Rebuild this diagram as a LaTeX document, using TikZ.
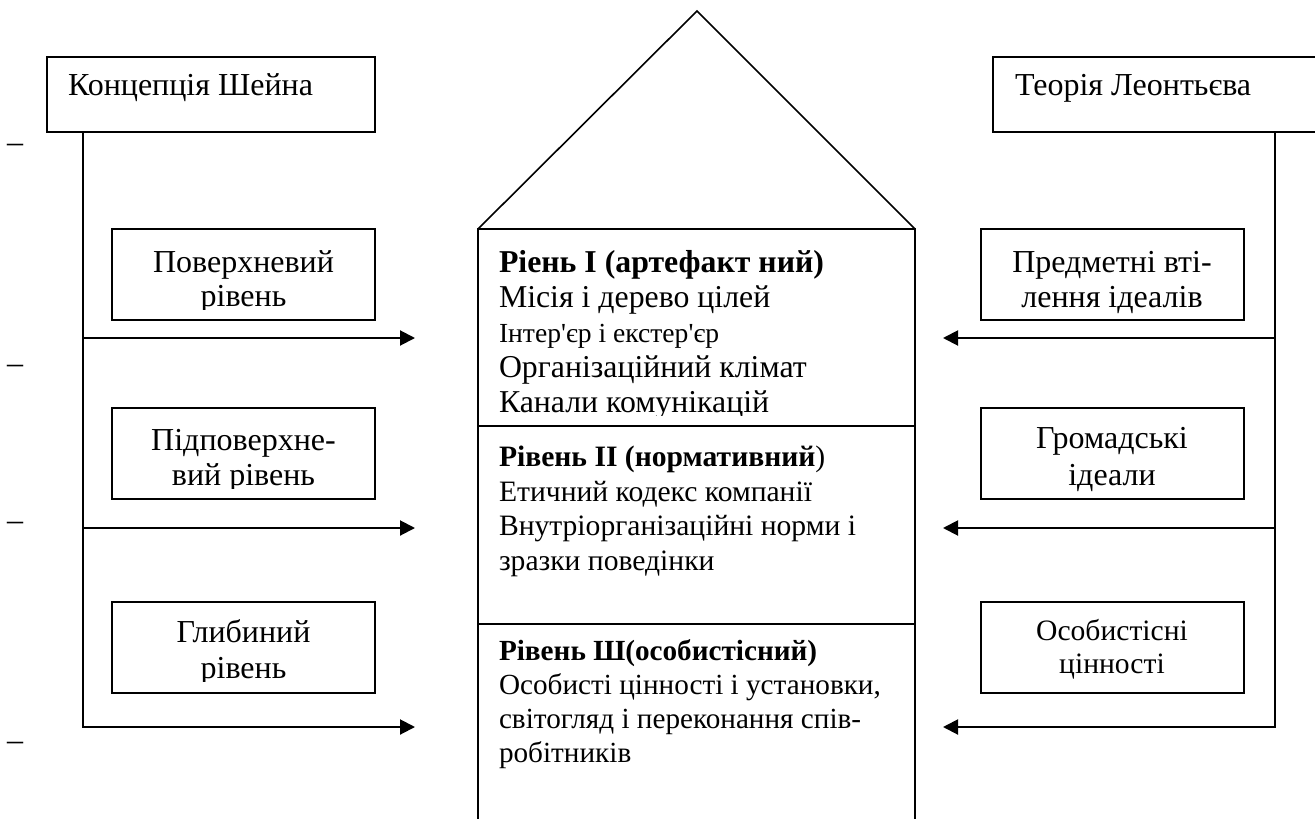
\documentclass[tikz,border=0pt]{standalone}
\usepackage{fontspec}
\newfontfamily\lvrm{Liberation Serif}
\usetikzlibrary{arrows.meta}

\begin{document}
\begin{tikzpicture}[x=0.5pt, y=-0.5pt, line width=1pt]
      \tikzstyle{every node}=[inner sep=0pt, outer sep=0pt, font=\lvrm\fontsize{16}{17.5}\selectfont]
      \tikzstyle{sidebox}=[draw, minimum width=131.5pt, minimum height=45.5pt]
      \tikzstyle{lvl}=[draw, minimum width=218.5pt]
      \tikzstyle{small}=[font=\lvrm\fontsize{14.8}{17.2}\selectfont]
      \tikzstyle{arr}=[-{Triangle[length=7.5pt, width=7.5pt]}]
      %%
  \useasboundingbox (0,0) rectangle (1315,818);
  \node (schein) at (211,94.5) [draw, minimum width=164pt, minimum height=37.5pt] {};
  \node (leont) at (1155.5,94.5) [draw, minimum width=162.5pt, minimum height=37.5pt] {};
  \node (scheinT) at (68,96) [anchor=base west] {Концепція Шейна};
  \node (leontT) at (1015,96) [anchor=base west] {Теорія Леонтьєва};
  \node (d1) at (15,153) [anchor=base] {–};
  \node (d2) at (15,373) [anchor=base] {–};
  \node (d3) at (15,530) [anchor=base] {–};
  \node (d4) at (15,750) [anchor=base] {–};
  %% house
  \node (lev1) at (696.5,327.5) [lvl, minimum height=98.5pt] {};
  \node (lev2) at (696.5,525) [lvl, minimum height=99pt] {};
  \node (lev3) at (696.5,727) [lvl, minimum height=103pt] {};
  \coordinate (apex) at (697,11);
  \draw [line width=0.8pt] (lev1.north west) -- (apex) -- (lev1.north east);
  \begin{scope}
    \clip (lev1.north west) rectangle ([yshift=5.5pt]lev1.south east);
    \node (lev1T) at (499,412) [anchor=base west, align=left, font=\lvrm\fontsize{15.9}{17.5}\selectfont] {\textbf{Ріень I (артефакт ний)}\\Місія і дерево цілей\\{\fontsize{13.8}{17.5}\selectfont Інтер'єр і екстер'єр}\\Організаційний клімат\\Канали комунікацій};
  \end{scope}
  \node (lev2T) at (499,570) [small, anchor=base west, align=left] {\textbf{Рівень II (нормативний})\\Етичний кодекс компанії\\Внутріорганізаційні норми і\\зразки поведінки};
  \node (lev3T) at (499,762) [anchor=base west, align=left, font=\lvrm\fontsize{14.6}{17}\selectfont] {\textbf{Рівень Ш(особистісний)}\\Особисті цінності і установки,\\світогляд і переконання спів-\\робітників};
  %% left side
  \node (surf) at (243.5,274.5) [sidebox] {};
  \node (subs) at (243.5,453) [sidebox] {};
  \node (deep) at (243.5,647) [sidebox] {};
  \begin{scope}
    \clip (surf.north west) rectangle ([yshift=5.5pt]surf.south east);
    \node (surfT) at (243.5,306) [anchor=base, align=center, font=\lvrm\fontsize{16}{17}\selectfont] {Поверхневий\\рівень};
  \end{scope}
  \begin{scope}
    \clip (subs.north west) rectangle ([yshift=5pt]subs.south east);
    \node (subsT) at (243.5,485) [anchor=base, align=center] {Підповерхне-\\вий рівень};
  \end{scope}
  \begin{scope}
    \clip (deep.north west) rectangle ([yshift=5.5pt]deep.south east);
    \node (deepT) at (243.5,678) [anchor=base, align=center, font=\lvrm\fontsize{16}{18}\selectfont] {Глибиний\\рівень};
  \end{scope}
  \coordinate (lTop) at (83,132);
  \coordinate (l1) at (83,338);
  \coordinate (l2) at (83,528);
  \coordinate (h1) at (415,338);
  \coordinate (h2) at (415,528);
  \coordinate (h3) at (415,727);
  \draw [arr] (lTop) |- (h3);
  \draw [arr] (l1) -- (h1);
  \draw [arr] (l2) -- (h2);
  %% right side
  \node (embo) at (1112,274.5) [sidebox] {};
  \node (publ) at (1112,453) [sidebox] {};
  \node (pers) at (1112,647) [sidebox] {};
  \node (emboT) at (1112,307) [anchor=base, align=center] {Предметні вті-\\лення ідеалів};
  \node (publT) at (1112,485) [anchor=base, align=center, font=\lvrm\fontsize{16}{18.5}\selectfont] {Громадські\\ідеали};
  \node (persT) at (1112,673) [anchor=base, align=center, font=\lvrm\fontsize{14.8}{16.5}\selectfont] {Особистісні\\цінності};
  \coordinate (rTop) at (1275,132);
  \coordinate (r1) at (1275,338);
  \coordinate (r2) at (1275,528);
  \coordinate (g1) at (943,338);
  \coordinate (g2) at (943,528);
  \coordinate (g3) at (943,727);
  \draw [arr] (rTop) |- (g3);
  \draw [arr] (r1) -- (g1);
  \draw [arr] (r2) -- (g2);
%
\end{tikzpicture}
\end{document}
